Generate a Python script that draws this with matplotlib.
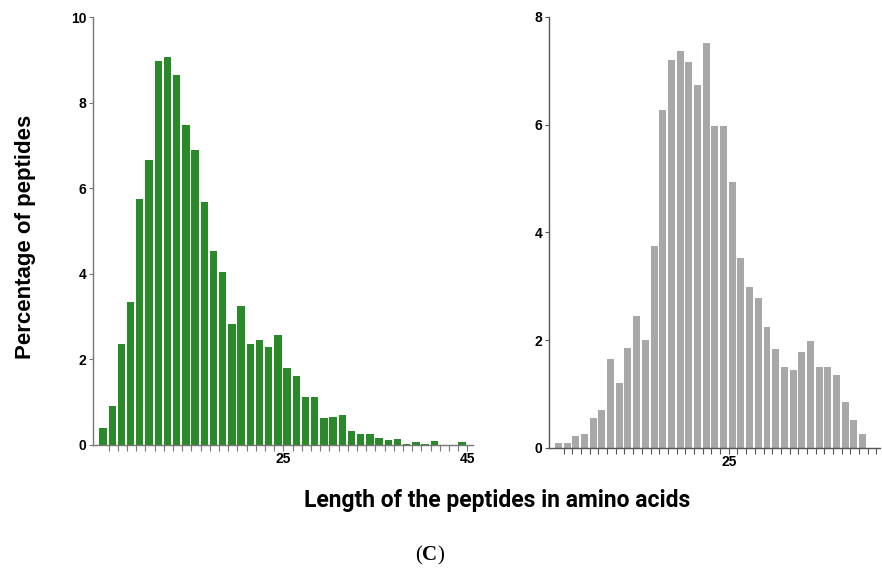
import matplotlib
matplotlib.use("Agg")
import matplotlib.pyplot as plt
import numpy as np

# ---------------------------------------------------------------- data
# peptide length (left edge of each 1-aa bin) and % of peptides
len_left = np.arange(5, 45)
pct_left = [0.39, 0.92, 2.36, 3.35, 5.74, 6.65, 8.97, 9.07, 8.65, 7.48,
            6.90, 5.67, 4.54, 4.05, 2.83, 3.24, 2.36, 2.46, 2.28, 2.58,
            1.81, 1.62, 1.11, 1.11, 0.64, 0.66, 0.69, 0.33, 0.25, 0.25,
            0.17, 0.12, 0.15, 0.02, 0.07, 0.02, 0.10, 0.0, 0.0, 0.07]

len_right = np.arange(5, 41)
pct_right = [0.10, 0.10, 0.22, 0.26, 0.56, 0.70, 1.65, 1.20, 1.85, 2.45,
             2.00, 3.74, 6.28, 7.21, 7.37, 7.17, 6.73, 7.52, 5.98, 5.97,
             4.93, 3.53, 2.98, 2.79, 2.24, 1.84, 1.50, 1.45, 1.79, 1.99,
             1.50, 1.50, 1.35, 0.86, 0.51, 0.26]

left_ticks = [25, 45]
right_ticks = [25]

GREEN = "#2a8a2a"
GREY = "#a8a8a8"
TICKFONT = dict(family="Liberation Sans", weight="bold", size=10)

fig = plt.figure(figsize=(8.82, 5.73), dpi=100)
axL = fig.add_axes([0.1058, 0.2234, 0.4305, 0.7469])
axR = fig.add_axes([0.6228, 0.2182, 0.3749, 0.7522])


def style(ax, xmax, ymax, yticks, xticks, spine_col):
    ax.set_xlim(4.35, xmax)
    ax.set_ylim(0, ymax)
    ax.spines[["top", "right"]].set_visible(False)
    for s in ("left", "bottom"):
        ax.spines[s].set_color(spine_col)
        ax.spines[s].set_linewidth(1.0)
    ax.set_yticks(yticks)
    ax.set_xticks(xticks)
    ax.set_xticks(np.arange(6, int(xmax) + 1), minor=True)
    ax.tick_params(axis="y", length=3, width=0.8, color=spine_col, pad=2)
    ax.tick_params(axis="x", which="both", length=4, width=0.8, color=spine_col, pad=1)
    for lab in ax.get_xticklabels() + ax.get_yticklabels():
        lab.set_fontproperties(TICKFONT)


axL.bar(len_left, pct_left, width=0.8, align="edge", color=GREEN)
style(axL, 45.6, 10, [0, 2, 4, 6, 8, 10], left_ticks, "#777777")

axR.bar(len_right, pct_right, width=0.8, align="edge", color=GREY)
style(axR, 42.4, 8, [0, 2, 4, 6, 8], right_ticks, "#555555")

fig.text(0.029, 0.587, "Percentage of peptides", rotation=90, ha="center", va="center",
         family="Liberation Sans", weight="bold", size=16)
fig.text(0.564, 0.127, "Length of the peptides in amino acids", ha="center", va="center",
         family="Roboto", weight="bold", size=16.5)

# panel label "(C)" with bold C
fig.text(0.4785, 0.022, "(", ha="right", va="baseline", family="Liberation Serif", size=15)
fig.text(0.4785, 0.022, "C", ha="left", va="baseline", family="Liberation Serif", weight="bold", size=15)
fig.text(0.4962, 0.022, ")", ha="left", va="baseline", family="Liberation Serif", size=15)

fig.savefig("out.png", dpi=100)
